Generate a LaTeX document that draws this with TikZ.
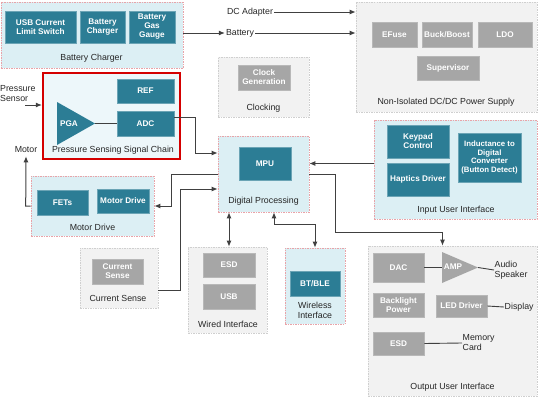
\documentclass[tikz,border=0pt]{standalone}
\usepackage{fontspec}
\setmainfont{Liberation Sans}
\usetikzlibrary{arrows.meta,positioning}

\definecolor{boxteal}{HTML}{2C7D95}
\definecolor{boxgray}{HTML}{A6A6A6}
\definecolor{grpblue}{HTML}{DCEFF4}
\definecolor{grpedge}{HTML}{E9A3A8}
\definecolor{grpgray}{HTML}{F2F2F2}
\definecolor{grayedge}{HTML}{CFCFCF}
\definecolor{sigred}{HTML}{D40000}
\definecolor{linegray}{HTML}{404040}
\definecolor{txtgray}{HTML}{262626}

\newcommand\boxfont{\fontsize{8.2}{9}\selectfont\bfseries}
\newcommand\lblfont{\fontsize{8.8}{10}\selectfont}

\tikzset{
  sz/.style 2 args={minimum width=#1, minimum height=#2},
  grp/.style={draw=#1, dash pattern=on 1.5pt off 1pt, line width=0.6pt, inner sep=0pt},
  bluegrp/.style={grp=grpedge, fill=grpblue},
  graygrp/.style={grp=grayedge, fill=grpgray},
  tbox/.style={fill=boxteal, draw=boxteal!70!white, line width=0.6pt, text=white,
    font=\boxfont, align=center, inner sep=0pt},
  gbox/.style={tbox, fill=boxgray, draw=boxgray!80!white},
  lbl/.style={font=\lblfont, text=txtgray, align=center, inner sep=1pt},
  conn/.style={draw=linegray, line width=1pt, -{Latex[length=6pt,width=5pt]}},
  dconn/.style={conn, {Latex[length=6pt,width=5pt]}-{Latex[length=6pt,width=5pt]}},
  wire/.style={draw=linegray, line width=0.9pt}
}

\begin{document}
\begin{tikzpicture}[x=1pt,y=-1pt]
\useasboundingbox (0,0) rectangle (542,402);

% group frames
\node[bluegrp, sz={182pt}{66pt}] (bcgrp) at (92,35) {};
\node[graygrp, sz={181pt}{110pt}] (nigrp) at (446.5,57) {};
\node[graygrp, sz={91pt}{60pt}] (clkgrp) at (263.5,87) {};
\node[fill=grpblue!50!white, draw=sigred, line width=2.2pt, sz={137pt}{86pt}] (psgrp) at (111.5,116) {};
\node[bluegrp, sz={91pt}{76pt}] (dpgrp) at (263.5,174) {};
\node[bluegrp, sz={163pt}{99pt}] (iuigrp) at (455.5,169.5) {};
\node[bluegrp, sz={123pt}{60pt}] (mdgrp) at (92.5,206) {};
\node[graygrp, sz={78pt}{60pt}] (csgrp) at (119,278) {};
\node[graygrp, sz={79pt}{86pt}] (wigrp) at (227.5,290) {};
\node[bluegrp, sz={60pt}{76pt}] (wlgrp) at (315,286) {};
\node[graygrp, sz={169pt}{150pt}] (ouigrp) at (452.5,321) {};

% battery charger
\node[tbox, sz={71pt}{32pt}] (usb) at (40.5,27) {USB Current\\Limit Switch};
\node[tbox, sz={45pt}{32pt}] (chg) at (102.5,27) {Battery\\Charger};
\node[tbox, sz={46pt}{32pt}] (gas) at (152,27) {Battery\\Gas\\Gauge};
\node[lbl] (bclbl) at (91.5,58) {Battery Charger};

% power supply
\node[gbox, sz={45pt}{25pt}] (efuse) at (394.5,34.5) {EFuse};
\node[gbox, sz={50pt}{25pt}] (buck) at (447,34.5) {Buck/Boost};
\node[gbox, sz={54pt}{25pt}] (ldo) at (505,34.5) {LDO};
\node[gbox, sz={62pt}{24pt}] (sup) at (448,68) {Supervisor};
\node[lbl] (nilbl) at (446,102) {Non-Isolated DC/DC Power Supply};

% clocking
\node[gbox, sz={52pt}{25pt}] (clk) at (264,77.5) {Clock\\Generation};
\node[lbl] (clklbl) at (263.5,108) {Clocking};

% signal chain
\node[tbox, sz={57pt}{24pt}] (ref) at (145.5,91) {REF};
\node[tbox, sz={57pt}{25pt}] (adc) at (145.5,123.5) {ADC};
\fill[boxteal] (57,102) -- (95,123.5) -- (57,145) -- cycle;
\node[lbl, text=white, font=\boxfont] (pga) at (69,124) {PGA};
\coordinate (pgatip) at (95,123.5);
\draw[wire] (pgatip) -- (adc.west);
\node[lbl] (pslbl) at (113,150) {Pressure Sensing Signal Chain};

% digital processing
\node[tbox, sz={52pt}{33pt}] (mpu) at (265,163.5) {MPU};
\node[lbl] (dplbl) at (263.5,201) {Digital Processing};

% input user interface
\node[tbox, sz={62pt}{33pt}] (keypad) at (418,141.5) {Keypad\\Control};
\node[tbox, sz={62pt}{33pt}] (haptics) at (418,179.5) {Haptics Driver};
\node[tbox, sz={63pt}{49pt}, font=\fontsize{7.8}{8.6}\selectfont\bfseries] (ldc) at (489.5,157.5) {Inductance to\\Digital\\Converter\\(Button Detect)};
\node[lbl] (iuilbl) at (456,210) {Input User Interface};

% motor drive
\node[tbox, sz={51pt}{25pt}] (fets) at (62.5,202.5) {FETs};
\node[tbox, sz={52pt}{24pt}] (mdrv) at (123,201) {Motor Drive};
\node[lbl] (mdlbl) at (92.5,227) {Motor Drive};

% current sense
\node[gbox, sz={51pt}{25pt}] (csense) at (117.5,271.5) {Current\\Sense};
\node[lbl] (cslbl) at (118,298) {Current Sense};

% wired interface
\node[gbox, sz={52pt}{24pt}] (esdw) at (229,265) {ESD};
\node[gbox, sz={52pt}{25pt}] (usbw) at (229,296.5) {USB};
\node[lbl] (wilbl) at (228,324) {Wired Interface};

% wireless interface
\node[tbox, sz={50pt}{25pt}] (btble) at (315,283.5) {BT/BLE};
\node[lbl] (wllbl) at (315,310) {Wireless\\Interface};

% output user interface
\node[gbox, sz={51pt}{29pt}] (dac) at (398.5,267.5) {DAC};
\fill[boxgray] (442,252) -- (478,267.5) -- (442,283) -- cycle;
\node[lbl, text=white, font=\boxfont] (amp) at (453,267) {AMP};
\coordinate (ampin) at (442,267.5);
\coordinate (amptip) at (478,267.5);
\node[gbox, sz={51pt}{24pt}] (blp) at (398.5,305) {Backlight\\Power};
\node[gbox, sz={51pt}{22pt}] (led) at (461.5,306) {LED Driver};
\node[gbox, sz={51pt}{23pt}] (esdo) at (398.5,343.5) {ESD};
\node[lbl] (ouilbl) at (452.5,387) {Output User Interface};

% outside labels
\node[lbl] (dcin) at (250,12) {DC Adapter};
\node[lbl] (batt) at (240,33) {Battery};
\node[lbl, align=left, anchor=west, inner sep=0pt] (psens) at (0,94) {Pressure\\Sensor};
\coordinate (psin) at (25,105);
\node[lbl, inner sep=3pt] (motor) at (26,150) {Motor};
\node[lbl, align=left, anchor=west, inner sep=0.5pt] (spk) at (494,270) {Audio\\Speaker};
\node[lbl, anchor=west, inner sep=0.5pt] (disp) at (504,307) {Display};
\node[lbl, align=left, anchor=west, inner sep=0.5pt] (memc) at (462,343) {Memory\\Card};

% connectors
\draw[conn] (bcgrp.east |- batt) -- (batt.west);
\draw[conn] (batt.east) -- (batt.east -| nigrp.west);
\draw[conn] (dcin.east) -- (dcin.east -| nigrp.west);
\draw[conn] (psin) -- (psin -| psgrp.west);
\draw[conn] ([yshift=6pt]adc.east) -- ++(21,0) |- ([yshift=21pt]dpgrp.west);
\draw[conn] (dpgrp.west) -- ++(-46,0) |- (mdgrp.east);
\draw[conn] ([yshift=-12pt]csgrp.east) -- ++(22,0) |- ([yshift=-15pt]dpgrp.west);
\draw[conn] (mdgrp.west) -- ++(-5,0) -- (motor.south);
\draw[conn] (iuigrp.west |- mpu) -- (dpgrp.east |- mpu);
\draw[conn] (dpgrp.east) -- ++(26,0) -- ++(0,58) -| ([xshift=-10pt]ouigrp.north);
\draw[dconn] (esdw |- dpgrp.south) -- (esdw |- wigrp.north);
\draw[dconn] ([xshift=10.5pt]dpgrp.south) -- ++(0,12) -| (wlgrp.north);
\draw[wire] (dac.east) -- (ampin);
\draw[wire] (amptip) -- (spk.west);
\draw[wire] (led.east) -- (disp.west);
\draw[wire] (esdo.east) -- (memc.west);
\end{tikzpicture}
\end{document}
